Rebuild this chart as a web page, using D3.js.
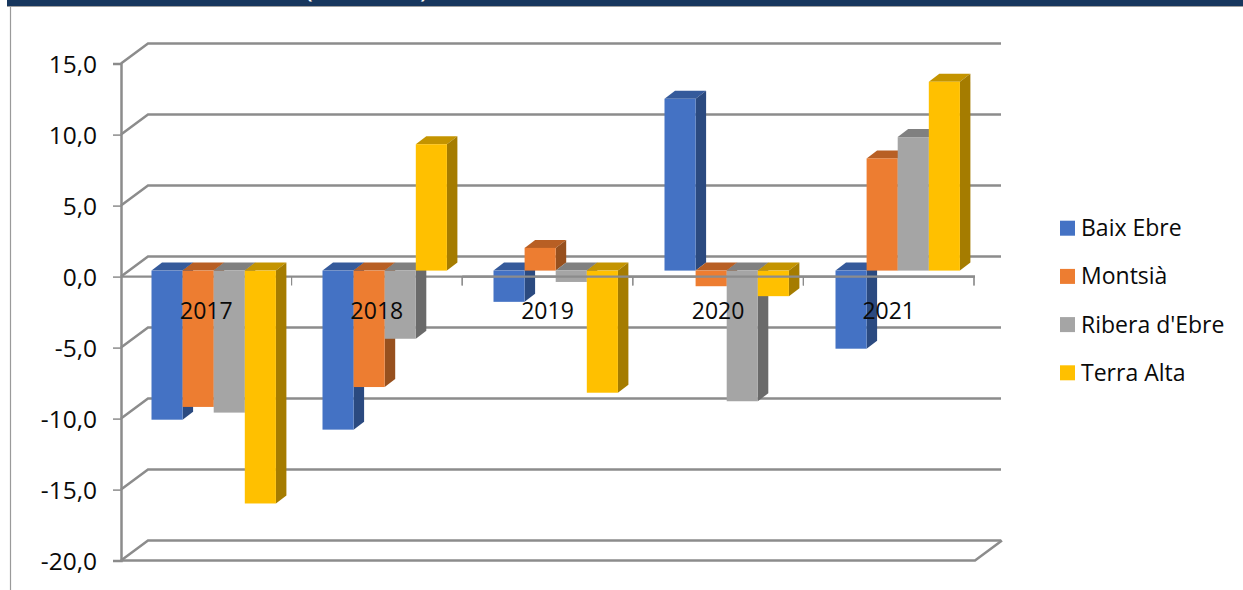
<!DOCTYPE html>
<html>
<head>
<meta charset="utf-8">
<script src="https://cdn.jsdelivr.net/npm/d3@7"></script>
<style>
    html, body { margin: 0; padding: 0; background: #fff; }
    svg { display: block; }
    text { font-family: "Open Sans", sans-serif; fill: #0a0a0a; }
</style>
</head>
<body>
<div id="chart"></div>
<script>
const categories = ["2017", "2018", "2019", "2020", "2021"];
const seriesNames = ["Baix Ebre", "Montsià", "Ribera d'Ebre", "Terra Alta"];
const baixEbre = [-10.5, -11.2, -2.2, 12.1, -5.5];
const montsia = [-9.6, -8.2, 1.6, -1.1, 7.9];
const riberaEbre = [-10.0, -4.8, -0.8, -9.2, 9.4];
const terraAlta = [-16.4, 8.9, -8.6, -1.8, 13.3];
const yTicks = [15, 10, 5, 0, -5, -10, -15, -20];

const seriesValues = [baixEbre, montsia, riberaEbre, terraAlta];
const frontColors = ["#4472c4", "#ed7d31", "#a5a5a5", "#ffc000"];
const topColors = ["#355a9b", "#b85f24", "#808080", "#c49400"];
const sideColors = ["#2b4a80", "#97501e", "#6a6a6a", "#a57c00"];

const width = 1243, height = 590;
const gridColor = "#8c8c8c";

const svg = d3.select("#chart").append("svg")
    .attr("width", width)
    .attr("height", height);

// Clipped header band and the left frame line
// (the reference cuts its title off at the top, only the paren bottoms are readable)
svg.append("clipPath").attr("id", "header-clip")
    .append("rect").attr("x", 7).attr("y", 0).attr("width", width - 7).attr("height", 6);
svg.append("rect").attr("x", 7).attr("y", 0).attr("width", width - 7).attr("height", 6).attr("fill", "#17375e");
const headerText = svg.append("g").attr("clip-path", "url(#header-clip)");
[["(", 304], [")", 420]].forEach(p => {
    headerText.append("text")
        .attr("x", p[1])
        .attr("y", -3)
        .style("font-size", "30px")
        .style("fill", "#fff")
        .text(p[0]);
});
svg.append("line").attr("x1", 7).attr("x2", width).attr("y1", 6.5).attr("y2", 6.5)
    .attr("stroke", "#a0a0a0").attr("stroke-width", 1);
svg.append("line").attr("x1", 10.5).attr("x2", 10.5).attr("y1", 6).attr("y2", height)
    .attr("stroke", "#9a9a9a").attr("stroke-width", 1.2);

// Front plane scales
const frontLeft = 121, frontRight = 974;
const yScale = d3.scaleLinear().domain([-20, 15]).range([560.6, 63.6]);
const xScale = d3.scaleBand().domain(categories).range([frontLeft, frontRight]);

// Depth offset of the back wall, and of the bars inside the box
const wallDx = 27, wallDy = -20;
const barPlaneDy = -6;
const barDx = 10.5, barDy = -8;
const groupScale = d3.scaleBand().domain(categories).range([151.5, 151.5 + 171 * categories.length]);
const barScale = d3.scaleBand().domain(d3.range(seriesNames.length)).range([0, 124.4]);

// Back wall gridlines and the diagonals on the side wall
const grid = svg.append("g").attr("fill", "none").attr("stroke", gridColor).attr("stroke-width", 2.5);
yTicks.forEach(t => {
    grid.append("path").attr("d", d3.line()([
        [frontLeft, yScale(t)],
        [frontLeft + wallDx, yScale(t) + wallDy],
        [frontRight + wallDx, yScale(t) + wallDy]
    ]));
});
// Floor front edge and closing diagonal
grid.append("path").attr("d", d3.line()([
    [frontLeft, yScale(-20)],
    [frontRight + 1, yScale(-20)],
    [frontRight + wallDx + 1, yScale(-20) + wallDy]
]));

// Value axis, drawn with the d3 axis so labels and ticks come from the scale
const yAxis = d3.axisLeft(yScale)
    .tickValues(yTicks)
    .tickSize(8)
    .tickPadding(16)
    .tickFormat(d => d.toFixed(1).replace(".", ","));

const yAxisG = svg.append("g")
    .attr("transform", `translate(${frontLeft},0)`)
    .call(yAxis);
yAxisG.select(".domain").attr("stroke", gridColor).attr("stroke-width", 2.5);
yAxisG.selectAll(".tick line").attr("stroke", gridColor).attr("stroke-width", 1.5);
yAxisG.selectAll(".tick text")
    .attr("dy", "0.37em")
    .style("font-family", '"Open Sans", sans-serif')
    .style("font-size", "24.5px")
    .attr("fill", "#0a0a0a");

// Category axis line and ticks at zero on the front plane
function drawCategoryAxis(x1) {
    const g = svg.append("g").attr("fill", "none").attr("stroke", gridColor);
    g.append("line")
        .attr("x1", x1).attr("x2", frontRight + 1)
        .attr("y1", yScale(0)).attr("y2", yScale(0))
        .attr("stroke-width", 2.2);
    categories.forEach(cat => {
        const tx = xScale(cat) + xScale.bandwidth();
        if (tx < x1) return;
        g.append("line")
            .attr("x1", tx).attr("x2", tx)
            .attr("y1", yScale(0)).attr("y2", yScale(0) + 9)
            .attr("stroke-width", 1.2);
    });
}
drawCategoryAxis(frontLeft);

// Bars: top and side faces first, then the front, left to right in each group
const barZero = yScale(0) + barPlaneDy;
const bars = svg.append("g");
categories.forEach((cat, c) => {
    seriesValues.forEach((values, s) => {
        const x0 = groupScale(cat) + barScale(s);
        const w = barScale.bandwidth();
        const yVal = yScale(values[c]) + barPlaneDy;
        const top = Math.min(yVal, barZero);
        const bottom = Math.max(yVal, barZero);

        bars.append("path")
            .attr("fill", topColors[s])
            .attr("d", d3.line()([
                [x0, top], [x0 + barDx, top + barDy],
                [x0 + w + barDx, top + barDy], [x0 + w, top]
            ]) + "Z");
        bars.append("path")
            .attr("fill", sideColors[s])
            .attr("d", d3.line()([
                [x0 + w, top], [x0 + w + barDx, top + barDy],
                [x0 + w + barDx, bottom + barDy], [x0 + w, bottom]
            ]) + "Z");
        bars.append("rect")
            .attr("x", x0)
            .attr("y", top)
            .attr("width", w)
            .attr("height", bottom - top)
            .attr("fill", frontColors[s]);
    });
});

// From 2019 on the axis line runs over the bars, not behind them
drawCategoryAxis(xScale("2019"));

svg.append("g").selectAll("text")
    .data(categories)
    .enter()
    .append("text")
    .attr("x", d => xScale(d) + xScale.bandwidth() / 2)
    .attr("y", yScale(0) + 42.5)
    .attr("text-anchor", "middle")
    .style("font-size", "23px")
    .text(d => d);

// Legend
const legend = svg.append("g")
    .selectAll("g")
    .data(seriesNames)
    .enter()
    .append("g")
    .attr("transform", (d, i) => `translate(1060, ${220.7 + i * 48.2})`);

legend.append("rect")
    .attr("width", 15)
    .attr("height", 15)
    .attr("fill", (d, i) => frontColors[i]);

legend.append("text")
    .attr("x", 21)
    .attr("y", 15.5)
    .style("font-size", "23px")
    .text(d => d);
</script>
</body>
</html>
